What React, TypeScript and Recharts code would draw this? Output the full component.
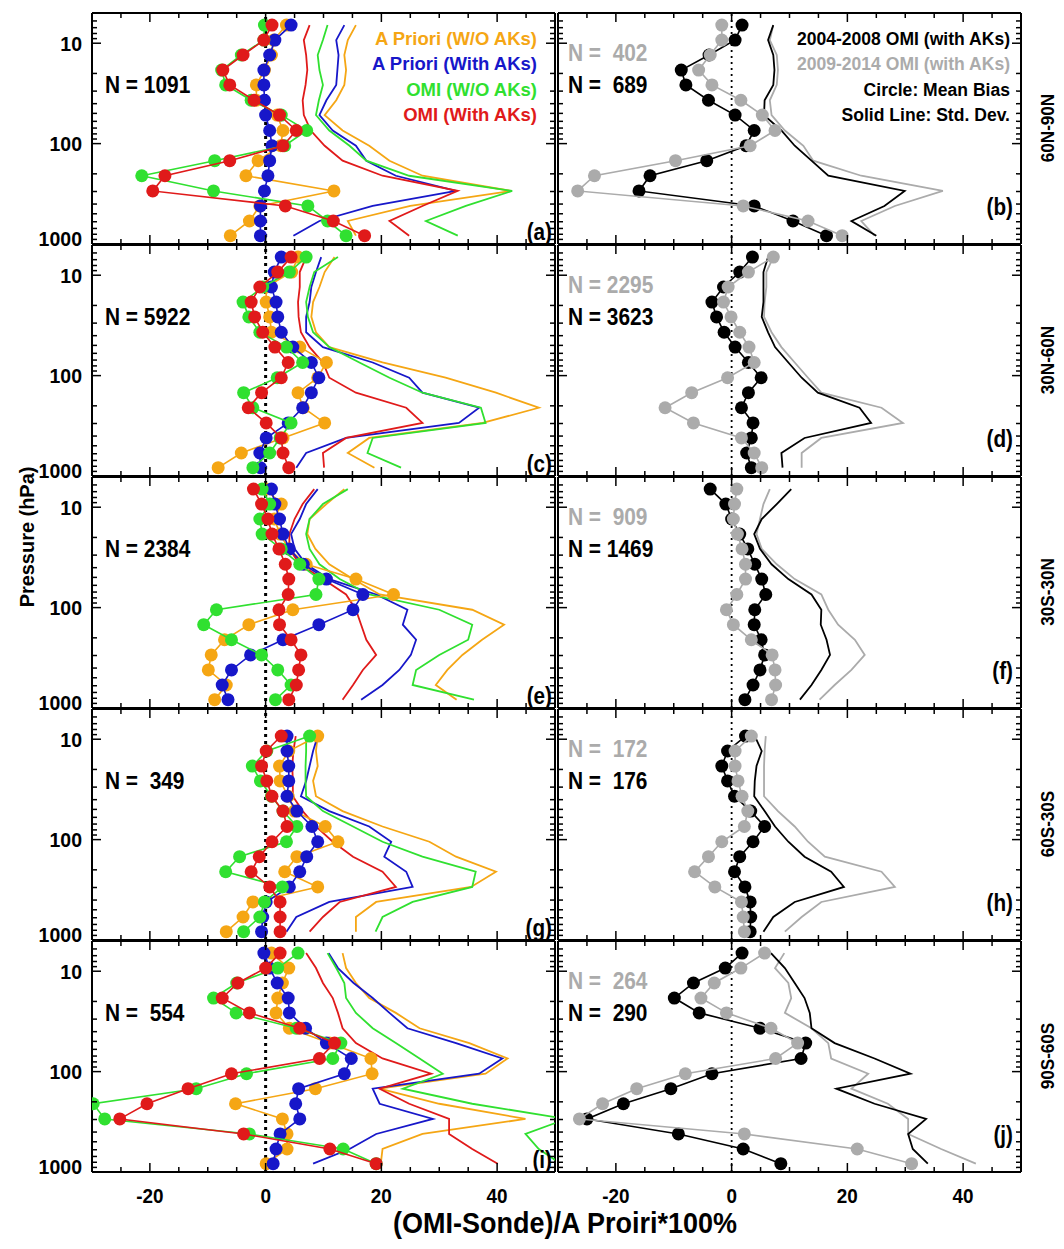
import React from "react";
import { ScatterChart, Scatter, XAxis, YAxis, ReferenceLine } from "recharts";

const FONT = '"Liberation Sans", Arial, Helvetica, sans-serif';

// OMI layer mid-pressures (hPa), top of the profile first
const levels = [6.6, 9.3, 13.1, 18.5, 26, 37, 52, 74, 105, 148, 209, 296, 418, 590, 826];

const xTicks = [-25, -20, -15, -10, -5, 0, 5, 10, 15, 20, 25, 30, 35, 40, 45];
const pTicks = [6, 7, 8, 9, 10, 20, 30, 40, 50, 60, 70, 80, 90, 100, 200, 300, 400, 500, 600, 700, 800, 900, 1000];

const regions = ["60N-90N", "30N-60N", "30S-30N", "60S-30S", "90S-60S"];
const nAll = [1091, 5922, 2384, 349, 554];
const nEarly = [689, 3623, 1469, 176, 290];
const nLate = [402, 2295, 909, 172, 264];

// (a) 60N-90N
const aBiasApNo = [3.6, 1.4, 1.0, -0.2, -1.6, -1.6, 2.0, 3.0, 2.6, -1.3, -3.4, 11.8, -1.0, -2.8, -6.1];
const aBiasApAk = [4.4, 1.6, 0.7, -0.3, -0.3, -0.2, 0.0, 0.7, 1.1, 0.7, 0.4, -0.2, -0.9, -0.9, -0.9];
const aBiasOmiNo = [-0.2, -0.3, -4.2, -7.6, -6.9, -2.5, 2.7, 7.1, 3.3, -8.8, -21.4, -9.0, 7.3, 10.7, 13.9];
const aBiasOmiAk = [1.1, -0.3, -3.9, -7.4, -6.2, -2.0, 2.4, 5.3, 3.0, -6.2, -17.4, -19.5, 3.4, 11.7, 17.1];
const aSdApNo = [15.6, 14.2, 13.6, 13.9, 13.6, 12.2, 10.2, 13.3, 17.9, 21.4, 27.1, 42.4, 25.0, 14.2, 15.6];
const aSdApAk = [13.6, 12.2, 12.6, 12.4, 12.2, 10.5, 9.3, 11.6, 15.6, 17.4, 22.5, 32.9, 18.5, 9.3, 4.8];
const aSdOmiNo = [10.7, 9.9, 9.0, 9.3, 9.9, 9.2, 8.7, 11.0, 14.5, 17.4, 24.8, 42.6, 34.6, 27.7, 33.2];
const aSdOmiAk = [7.6, 6.6, 7.0, 7.2, 6.9, 6.4, 6.6, 7.8, 10.2, 13.3, 20.2, 33.2, 27.1, 21.4, 24.8];

// (b) 60N-90N by period
const bBiasEarly = [1.8, 0.6, -3.9, -8.7, -7.9, -4.0, 0.6, 3.9, 2.5, -4.3, -14.1, -16.0, 3.9, 10.6, 16.4];
const bBiasLate = [-1.7, -1.7, -3.7, -5.7, -3.4, 1.6, 5.3, 7.5, 3.2, -9.7, -23.7, -26.6, 2.0, 13.2, 19.1];
const bSdEarly = [7.2, 6.3, 7.2, 7.4, 7.2, 5.7, 5.6, 8.6, 10.9, 13.8, 16.7, 29.9, 26.4, 20.7, 25.0];
const bSdLate = [7.2, 6.6, 7.8, 8.0, 7.8, 6.6, 6.9, 9.2, 12.4, 14.1, 22.4, 36.5, 28.2, 22.4, 24.7];

// (c) 30N-60N
const cBiasApNo = [5.6, 4.5, 0.1, 0.1, 0.7, 1.0, 5.9, 10.5, 9.0, 5.6, 6.5, 10.2, 3.0, -4.2, -8.2];
const cBiasApAk = [2.7, 1.5, 1.0, 1.8, 2.1, 2.7, 4.7, 7.9, 9.2, 7.9, 6.4, 3.9, 0.1, -1.0, -0.9];
const cBiasOmiNo = [7.0, 4.1, -0.5, -3.9, -2.9, -1.0, 3.6, 6.4, 2.0, -3.8, -2.2, 4.4, 2.5, 0.7, -2.2];
const cBiasOmiAk = [4.4, 2.1, -1.0, -2.5, -1.9, -0.5, 1.6, 3.9, 2.7, -0.7, -3.0, 0.1, 2.7, 3.0, 4.0];
const cSdApNo = [11.9, 10.2, 9.3, 8.2, 7.9, 8.7, 11.0, 20.2, 31.1, 39.8, 47.2, 37.5, 17.9, 14.2, 18.8];
const cSdApAk = [9.6, 8.7, 7.9, 7.6, 7.0, 7.0, 9.9, 18.5, 24.8, 27.1, 36.9, 33.4, 13.9, 7.0, 5.3];
const cSdOmiNo = [12.5, 8.4, 7.6, 7.0, 7.3, 8.2, 11.0, 16.2, 21.4, 27.1, 37.2, 38.0, 18.5, 17.6, 23.4];
const cSdOmiAk = [7.0, 5.9, 5.9, 5.6, 5.7, 6.1, 7.6, 9.9, 11.0, 15.6, 24.3, 27.1, 13.9, 9.9, 10.1];

// (d) 30N-60N by period
const dBiasEarly = [3.6, 1.4, -1.4, -3.4, -2.6, -1.3, 0.6, 2.9, 5.1, 2.9, 1.7, 3.7, 3.4, 2.6, 3.4];
const dBiasLate = [7.2, 2.9, -0.6, -1.4, -0.1, 1.4, 3.0, 3.9, -0.7, -6.9, -11.5, -6.6, 1.7, 3.9, 5.2];
const dSdEarly = [6.3, 5.5, 5.5, 5.5, 5.2, 6.3, 7.5, 9.8, 12.1, 14.9, 22.1, 24.1, 12.6, 8.6, 8.8];
const dSdLate = [7.2, 6.0, 6.0, 5.7, 5.6, 6.9, 8.6, 10.9, 13.2, 15.5, 25.9, 29.6, 15.5, 12.1, 12.1];

// (e) 30S-30N
const eBiasApNo = [0.0, 2.7, 1.5, 2.5, 4.0, 7.0, 15.6, 22.1, 4.7, -2.9, -7.1, -9.4, -9.9, -6.8, -8.8];
const eBiasApAk = [1.0, 1.6, 2.4, 3.0, 4.1, 6.5, 10.5, 16.8, 15.1, 9.2, 3.0, -2.6, -5.9, -7.5, -6.5];
const eBiasOmiNo = [-0.6, 0.7, -1.0, -0.6, 2.7, 5.9, 9.2, 8.7, -8.5, -10.7, -5.9, -0.7, 2.1, 4.4, 1.7];
const eBiasOmiAk = [-2.1, -0.7, 0.4, 1.1, 2.3, 3.4, 4.0, 3.9, 2.3, 2.4, 4.4, 6.1, 5.7, 5.3, 4.0];
const eSdApNo = [13.6, 10.5, 7.6, 7.2, 8.6, 11.0, 15.1, 19.7, 35.7, 41.2, 37.4, 34.0, 31.4, 29.4, 33.0];
const eSdApAk = [9.0, 7.0, 5.9, 4.4, 5.0, 7.0, 11.0, 19.1, 24.5, 23.7, 26.0, 25.1, 23.1, 20.2, 16.5];
const eSdOmiNo = [14.2, 9.9, 7.6, 7.0, 7.6, 9.3, 12.8, 17.9, 30.0, 35.7, 35.0, 30.0, 26.0, 25.4, 36.0];
const eSdOmiAk = [8.4, 6.4, 5.0, 4.1, 4.1, 5.9, 9.9, 13.9, 15.6, 16.5, 17.4, 19.1, 16.8, 15.1, 13.3];

// (f) 30S-30N by period
const fBiasEarly = [-3.7, -1.0, 0.0, 1.4, 2.8, 4.0, 5.2, 5.9, 4.0, 3.9, 5.1, 5.7, 4.9, 3.7, 2.3];
const fBiasLate = [0.9, 0.5, 0.3, 1.0, 1.8, 2.4, 2.4, 0.9, -0.9, 0.3, 3.4, 7.0, 7.5, 7.6, 6.9];
const fSdEarly = [10.3, 7.8, 5.2, 3.9, 4.9, 6.9, 9.8, 13.8, 15.5, 15.4, 16.4, 17.0, 15.5, 13.8, 11.8];
const fSdLate = [6.6, 5.5, 4.9, 4.3, 5.2, 7.8, 10.9, 15.5, 16.7, 18.4, 21.3, 23.0, 20.7, 17.8, 15.2];

// (g) 60S-30S
const gBiasApNo = [null, 9.0, 4.0, 2.4, 2.5, 3.9, 5.0, 10.3, 12.5, 5.4, 3.3, 9.0, -2.2, -3.9, -6.8];
const gBiasApAk = [null, 3.7, 3.7, 4.0, 4.0, 3.7, 5.4, 8.0, 9.0, 7.1, 5.9, 4.1, 0.1, -0.5, -0.7];
const gBiasOmiNo = [null, 7.6, 0.2, -2.3, -0.9, 1.0, 3.0, 5.4, 3.6, -4.5, -6.9, 2.9, -0.2, -1.0, -3.8];
const gBiasOmiAk = [null, 2.7, 0.1, -0.7, 0.2, 1.1, 3.0, 3.7, 1.1, -1.1, -2.5, 0.7, 2.5, 2.5, 2.5];
const gSdApNo = [null, 9.0, 8.7, 9.0, 8.2, 8.7, 13.3, 20.2, 28.3, 32.9, 39.8, 35.5, 19.1, 15.6, 15.6];
const gSdApAk = [null, 9.0, 8.2, 7.6, 7.0, 6.1, 11.0, 17.9, 21.7, 20.5, 24.3, 25.4, 11.0, 5.3, 3.6];
const gSdOmiNo = [null, 7.0, 7.0, 6.9, 6.9, 7.0, 9.9, 15.1, 20.2, 27.1, 36.3, 35.7, 25.4, 20.2, 19.0];
const gSdOmiAk = [null, 5.2, 4.8, 4.6, 4.7, 4.7, 6.4, 8.7, 11.6, 15.1, 20.2, 22.5, 12.8, 9.9, 7.6];

// (h) 60S-30S by period
const hBiasEarly = [null, 2.4, -0.7, -1.7, -0.7, 0.5, 3.3, 5.7, 3.7, 1.4, 0.5, 2.3, 3.2, 3.3, 3.2];
const hBiasLate = [null, 3.4, 0.6, 0.6, 1.1, 1.8, 2.8, 2.2, -1.7, -4.0, -6.4, -2.9, 1.7, 2.0, 2.2];
const hSdEarly = [null, 4.0, 5.2, 4.3, 4.0, 3.9, 5.7, 7.5, 9.8, 12.6, 17.2, 19.4, 10.9, 7.2, 5.5];
const hSdLate = [null, 5.9, 5.7, 5.6, 5.6, 5.6, 8.0, 10.9, 13.2, 16.1, 25.9, 28.2, 15.5, 12.1, 9.2];

// (i) 90S-60S
const iBiasApNo = [1.0, 4.0, 2.9, 2.1, 1.8, 4.1, 11.0, 18.2, 18.4, 8.6, -5.2, 2.9, 3.7, 3.7, 0.1];
const iBiasApAk = [-0.3, 0.7, 2.0, 3.9, 4.1, 6.9, 10.5, 14.8, 13.6, 5.7, 5.2, 5.9, 2.5, 1.8, 1.3];
const iBiasOmiNo = [5.6, 2.1, -5.0, -9.0, -5.1, 5.3, 13.0, 11.6, -3.3, -12.0, -29.8, -27.8, -2.8, 13.4, 19.1];
const iBiasOmiAk = [2.5, 0.0, -4.8, -7.5, -2.8, 5.9, 11.9, 9.3, -5.9, -13.4, -20.5, -25.2, -3.8, 11.1, 19.1];
const iSdApNo = [13.3, 13.9, 15.6, 17.9, 22.5, 26.6, 35.2, 41.8, 38.0, 19.7, 30.0, 44.9, 27.1, 20.2, 19.9];
const iSdApAk = [10.9, 12.5, 15.2, 18.5, 21.4, 24.5, 32.9, 40.9, 36.9, 18.5, 19.7, 28.9, 19.1, 14.5, 8.2];
const iSdOmiNo = [10.7, 12.2, 13.6, 13.9, 15.6, 18.5, 22.5, 26.6, 30.6, 23.7, 35.7, 52.0, 44.9, 47.2, 51.0];
const iSdOmiAk = [7.0, 8.7, 9.9, 11.6, 12.5, 13.3, 15.6, 20.2, 28.6, 19.7, 24.8, 31.7, 31.7, 35.7, 40.1];

// (j) 90S-60S by period
const jBiasEarly = [1.8, -1.1, -6.6, -9.9, -5.6, 4.9, 12.8, 12.0, -3.4, -10.5, -18.7, -25.0, -9.2, 2.0, 8.5];
const jBiasLate = [5.7, 1.6, -3.0, -5.3, -0.9, 6.8, 11.4, 7.6, -8.0, -16.4, -22.3, -26.3, 2.2, 21.7, 31.1];
const jSdEarly = [6.8, 9.2, 10.9, 12.6, 13.5, 13.8, 17.8, 24.7, 30.9, 18.1, 24.7, 33.6, 30.5, 31.3, 33.9];
const jSdLate = [9.1, 7.5, 9.8, 10.3, 9.2, 13.8, 16.7, 17.2, 23.6, 20.7, 27.0, 30.5, 30.5, 36.2, 42.2];

const ORANGE = "#F5A614";
const BLUE = "#1717C9";
const GREEN = "#30E030";
const RED = "#E01A1A";
const BLACK = "#000000";
const GRAY = "#ABABAB";

const PW = 463;
const PH = 231;
const ML = 60;
const MR = 12;
const MT = 10;
const MB = 42;
const colX = [92, 558];
const rowY = [13, 245, 477, 709, 941];

const toPts = (vals: (number | null)[]) =>
  levels.map((p, i) => ({ x: vals[i], p })).filter((d) => d.x !== null);

const T = ({ x, y, size, sx = 1, anchor = "start", fill = BLACK, rotate = 0, children }: any) => (
  <text
    transform={`translate(${x},${y}) rotate(${rotate}) scale(${sx},1)`}
    fontSize={size}
    fontWeight="bold"
    fontFamily={FONT}
    textAnchor={anchor}
    fill={fill}
    style={{ whiteSpace: "pre" }}
  >
    {children}
  </text>
);

const XTick = ({ x, y, payload, dir, label }: any) => {
  const v = payload.value;
  const major = v % 20 === 0;
  const len = major ? 9 : 5;
  return (
    <g>
      <line x1={x} y1={y} x2={x} y2={y + dir * len} stroke={BLACK} strokeWidth={1.5} />
      {label && major && (
        <T x={x} y={y + 31} size={21} sx={0.9} anchor="middle">
          {v}
        </T>
      )}
    </g>
  );
};

const YTick = ({ x, y, payload, dir, label }: any) => {
  const v = payload.value;
  const major = v === 10 || v === 100 || v === 1000;
  const len = major ? 9 : 5;
  // the 1000 label is lifted a little so it stays clear of the panel below
  const lift = v === 1000 ? -6 : 0;
  return (
    <g>
      <line x1={x} y1={y} x2={x + dir * len} y2={y} stroke={BLACK} strokeWidth={1.5} />
      {label && major && (
        <T x={x - 10} y={y + 7.5 + lift} size={21} sx={0.93} anchor="end">
          {v}
        </T>
      )}
    </g>
  );
};

const frame = { stroke: BLACK, strokeWidth: 2 };

function Panel({ x, y, lines, dots, leftLabels, bottomLabels, thick }: any) {
  return (
    <div style={{ position: "absolute", left: x - ML, top: y - MT }}>
      <ScatterChart
        width={PW + ML + MR}
        height={PH + MT + MB}
        margin={{ top: MT - 1, right: MR - 1, bottom: MB - 1, left: ML - 1 }}
      >
        <XAxis
          type="number"
          dataKey="x"
          domain={[-30, 50]}
          allowDataOverflow
          ticks={xTicks}
          interval={0}
          height={1}
          tickSize={0}
          tickMargin={0}
          tickLine={false}
          axisLine={frame}
          tick={(p: any) => <XTick {...p} dir={-1} label={bottomLabels} />}
        />
        <XAxis
          xAxisId="top"
          orientation="top"
          type="number"
          dataKey="x"
          domain={[-30, 50]}
          allowDataOverflow
          ticks={xTicks}
          interval={0}
          height={1}
          tickSize={0}
          tickMargin={0}
          tickLine={false}
          axisLine={frame}
          tick={(p: any) => <XTick {...p} dir={1} label={false} />}
        />
        <YAxis
          type="number"
          dataKey="p"
          scale="log"
          domain={[5, 1000]}
          reversed
          allowDataOverflow
          ticks={pTicks}
          interval={0}
          width={1}
          tickSize={0}
          tickMargin={0}
          tickLine={false}
          axisLine={frame}
          tick={(p: any) => <YTick {...p} dir={1} label={leftLabels} />}
        />
        <YAxis
          yAxisId="right"
          orientation="right"
          type="number"
          dataKey="p"
          scale="log"
          domain={[5, 1000]}
          reversed
          allowDataOverflow
          ticks={pTicks}
          interval={0}
          width={1}
          tickSize={0}
          tickMargin={0}
          tickLine={false}
          axisLine={frame}
          tick={(p: any) => <YTick {...p} dir={-1} label={false} />}
        />
        {lines.map((s: any, i: number) => (
          <Scatter
            key={"l" + i}
            data={toPts(s.vals)}
            line={{ stroke: s.color, strokeWidth: 1.8 }}
            lineType="joint"
            shape={() => <g />}
            isAnimationActive={false}
          />
        ))}
        {dots.map((s: any, i: number) => (
          <Scatter
            key={"d" + i}
            data={toPts(s.vals)}
            line={{ stroke: s.color, strokeWidth: 1.6 }}
            lineType="joint"
            shape={(p: any) => <circle cx={p.cx} cy={p.cy} r={6.5} fill={s.color} />}
            isAnimationActive={false}
          />
        ))}
        <ReferenceLine
          x={0}
          stroke={BLACK}
          strokeWidth={thick ? 3 : 1.8}
          strokeDasharray={thick ? "3 4" : "2 4"}
        />
      </ScatterChart>
    </div>
  );
}

const leftPanels = [
  { apNo: aBiasApNo, apAk: aBiasApAk, omiNo: aBiasOmiNo, omiAk: aBiasOmiAk, sApNo: aSdApNo, sApAk: aSdApAk, sOmiNo: aSdOmiNo, sOmiAk: aSdOmiAk },
  { apNo: cBiasApNo, apAk: cBiasApAk, omiNo: cBiasOmiNo, omiAk: cBiasOmiAk, sApNo: cSdApNo, sApAk: cSdApAk, sOmiNo: cSdOmiNo, sOmiAk: cSdOmiAk },
  { apNo: eBiasApNo, apAk: eBiasApAk, omiNo: eBiasOmiNo, omiAk: eBiasOmiAk, sApNo: eSdApNo, sApAk: eSdApAk, sOmiNo: eSdOmiNo, sOmiAk: eSdOmiAk },
  { apNo: gBiasApNo, apAk: gBiasApAk, omiNo: gBiasOmiNo, omiAk: gBiasOmiAk, sApNo: gSdApNo, sApAk: gSdApAk, sOmiNo: gSdOmiNo, sOmiAk: gSdOmiAk },
  { apNo: iBiasApNo, apAk: iBiasApAk, omiNo: iBiasOmiNo, omiAk: iBiasOmiAk, sApNo: iSdApNo, sApAk: iSdApAk, sOmiNo: iSdOmiNo, sOmiAk: iSdOmiAk },
];

const rightPanels = [
  { early: bBiasEarly, late: bBiasLate, sEarly: bSdEarly, sLate: bSdLate },
  { early: dBiasEarly, late: dBiasLate, sEarly: dSdEarly, sLate: dSdLate },
  { early: fBiasEarly, late: fBiasLate, sEarly: fSdEarly, sLate: fSdLate },
  { early: hBiasEarly, late: hBiasLate, sEarly: hSdEarly, sLate: hSdLate },
  { early: jBiasEarly, late: jBiasLate, sEarly: jSdEarly, sLate: jSdLate },
];

const leftTags = ["(a)", "(c)", "(e)", "(g)", "(i)"];
const rightTags = ["(b)", "(d)", "(f)", "(h)", "(j)"];

const legendLeft = [
  { text: "A Priori (W/O AKs)", color: ORANGE },
  { text: "A Priori (With AKs)", color: BLUE },
  { text: "OMI (W/O AKs)", color: GREEN },
  { text: "OMI (With AKs)", color: RED },
];
const legendRight = [
  { text: "2004-2008 OMI (with AKs)", color: BLACK },
  { text: "2009-2014 OMI (with AKs)", color: GRAY },
  { text: "Circle: Mean Bias", color: BLACK },
  { text: "Solid Line: Std. Dev.", color: BLACK },
];
const legendY = [45, 70, 95.5, 120.5];

const pad = (n: number) => `N = ${String(n).padStart(4, " ")}`;

export default function App() {
  return (
    <div style={{ position: "absolute", left: 0, top: 0, width: 1064, height: 1249, background: "#fff" }}>
      {leftPanels.map((d, r) => (
        <Panel
          key={"L" + r}
          x={colX[0]}
          y={rowY[r]}
          leftLabels
          bottomLabels={r === 4}
          thick
          lines={[
            { vals: d.sApNo, color: ORANGE },
            { vals: d.sApAk, color: BLUE },
            { vals: d.sOmiNo, color: GREEN },
            { vals: d.sOmiAk, color: RED },
          ]}
          dots={[
            { vals: d.apNo, color: ORANGE },
            { vals: d.apAk, color: BLUE },
            { vals: d.omiNo, color: GREEN },
            { vals: d.omiAk, color: RED },
          ]}
        />
      ))}
      {rightPanels.map((d, r) => (
        <Panel
          key={"R" + r}
          x={colX[1]}
          y={rowY[r]}
          leftLabels={false}
          bottomLabels={r === 4}
          thick={false}
          lines={[
            { vals: d.sLate, color: GRAY },
            { vals: d.sEarly, color: BLACK },
          ]}
          dots={[
            { vals: d.early, color: BLACK },
            { vals: d.late, color: GRAY },
          ]}
        />
      ))}
      <svg width={1064} height={1249} style={{ position: "absolute", left: 0, top: 0, pointerEvents: "none" }}>
        {legendLeft.map((l, i) => (
          <T key={"ll" + i} x={537} y={legendY[i]} size={18.5} anchor="end" fill={l.color}>
            {l.text}
          </T>
        ))}
        {legendRight.map((l, i) => (
          <T key={"lr" + i} x={1010} y={legendY[i]} size={18.5} sx={0.95} anchor="end" fill={l.color}>
            {l.text}
          </T>
        ))}
        {rowY.map((top, r) => (
          <g key={"n" + r}>
            <T x={105} y={top + 79.6} size={24} sx={0.87}>{pad(nAll[r])}</T>
            <T x={568} y={top + 48} size={24} sx={0.87} fill={GRAY}>{pad(nLate[r])}</T>
            <T x={568} y={top + 79.6} size={24} sx={0.87}>{pad(nEarly[r])}</T>
            <T x={552} y={top + 226.5} size={23} sx={0.9} anchor="end">{leftTags[r]}</T>
            <T x={1013} y={top + 201.5} size={23} sx={0.9} anchor="end">{rightTags[r]}</T>
            <T x={1054} y={top + 115} size={19} sx={0.9} anchor="middle" rotate={-90}>{regions[r]}</T>
          </g>
        ))}
        <T x={33.5} y={537} size={21} sx={0.95} anchor="middle" rotate={-90}>Pressure (hPa)</T>
        <T x={565} y={1233} size={30} sx={0.9} anchor="middle">(OMI-Sonde)/A Proiri*100%</T>
      </svg>
    </div>
  );
}
